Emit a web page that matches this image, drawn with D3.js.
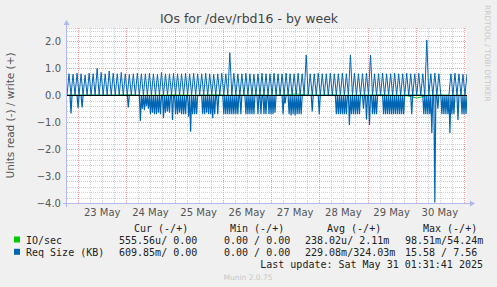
<!DOCTYPE html>
<html>
<head>
<meta charset="utf-8">
<script src="https://cdn.jsdelivr.net/npm/d3@7"></script>
<style>
  body { margin: 0; background: #f0f0f0; }
  svg text { font-family: "DejaVu Sans", sans-serif; }
  .mono { font-family: "DejaVu Sans Mono", monospace !important; font-size: 10px; fill: #222; }
</style>
</head>
<body>
<div id="chart"></div>
<script>
// Req Size (KB), write side, one sample per hour from 22 May 18:30
var reqWrite = [
  0,0.8, 0,0.78, 0,0.82, 0,0.8, 0,0.75, 0,0.82, 0,0.8, 0,1.0, 0,0.85, 0,0.8,
  0,0.9, 0,0.82, 0,0.8, 0,0.85, 0,0.8, 0,0.78, 0,0.8, 0,0.82, 0,0.8, 0,0.8,
  0,0.82, 0,0.8, 0,0.78, 0,0.85, 0,0.8, 0,0.8, 0,0.82, 0,0.8, 0,0.8, 0,0.82,
  0,0.8, 0,0.82, 0,0.8, 0,0.8, 0,0.82, 0,0.8, 0,0.78, 0,0.8, 0,0.82, 0,0.8,
  0,1.58, 0,0.82, 0,0.8, 0,0.8, 0,0.82, 0,0.8, 0,0.78, 0,0.8, 0,0.82, 0,0.8,
  0,0.8, 0,0.82, 0,0.8, 0,0.8, 0,0.82, 0,0.8, 0,0.8, 0,0.82, 0,0.8, 0,1.5,
  0,0.8, 0,0.8, 0,0.82, 0,0.8, 0,0.8, 0,0.82, 0,0.8, 0,0.8, 0,0.82, 0,0.8,
  0,1.5, 0,0.82, 0,0.8, 0,0.8, 0,0.82, 0,1.5, 0,0.8, 0,0.8, 0,0.82, 0,0.8,
  0,0.8, 0,0.82, 0,0.8, 0,0.8, 0,0.82, 0,0.8, 0,0.8, 0,0.82, 0,0.8, 0,2.05,
  0,0.8, 0,0.82, 0,0.8, 0,0, 0,0, 0,0.8, 0,0.82, 0,0.8, 0,0.78, 0,0.8
];

// Req Size (KB), read side, one sample per 30 minutes from 22 May 18:30
var reqRead = [
  0,0,0,0,0.67,0,0,0,0,0,0,0.48,0,0,0,0.45,0,0,0,0,
  0,0,0,0,0,0,0,0,0,0,0,0,0,0,0,0,0,0,0,0,
  0,0,0,0,0,0,0,0,0,0,0,0,0,0,0,0,0,0,0,0,
  0,0.45,0,0,0,0,0,0,0,0,0,0,0,0.95,0,0.5,0,0.55,0,0.4,
  0,0.5,0,0.7,0,0.65,0,0.7,0,0.7,0,0.65,0,0.7,0,0,0.85,0,0.65,0,
  0.6,0,0.65,0,0,0.92,0,0,0.7,0,0.7,0,0.65,0,0.7,0,0.7,0,0.7,0,
  0,0.8,0,1.35,0,0.7,0,0.7,0,0.7,0,0,0,0,0,0.7,0,0.7,0,0.65,
  0,0.7,0,0.7,0,0.85,0,0.7,0,0,0.7,0,0,0,0,0,0.7,0,0.7,0,
  0.7,0,0.7,0,0.7,0,0.7,0,0.7,0,0.7,0,0,0.7,0,0,0,0,0.7,0,
  0.7,0,0.7,0,0.7,0,0.7,0,0,0,0.7,0,0,0.7,0,0,0.7,0,0.7,0,
  0,0.7,0,0.7,0,0.7,0,0.65,0,0,0,0,0,0,0,0.7,0,0.3,0,0,
  0,0.7,0,0.75,0,0.7,0,0.75,0,0.7,0,0.7,0,0.7,0,0,0,0,0,0,
  0,0,0,0,0.6,0,0,0,0,0,0,0.7,0,0,0,0,0,0,0,0,
  0,0,0,0,0,0,0,0,0.7,0,0.7,0,0.7,0,0.7,0,0.7,0,0.7,0,
  0,1.1,0,0.7,0,0.7,0,0.7,0,0.7,0,0.7,0,0,0,0.5,0,0,0.9,0,
  0,1.1,0,0,0.7,0,0.7,0,0.7,0,0,0,0,0,0,0.7,0,0.7,0,0.7,
  0,0.7,0,0.7,0,0.7,0,0.7,0,0.7,0,0.7,0,0.7,0,0.7,0,0,0,0,
  0,0,0,0.7,0,0,0,0,0,0,0,0,0,0,0,0.7,0,0.7,0,0.7,
  0,0.7,0,1.4,0,0,3.98,0,0,0.5,0,0,0,0.7,0,0.7,0,0.7,0,0.7,
  0,1.4,0,0.7,0,0.7,0,0,0,0.92,0,0,0,0.7,0,0.7,0,0.7,0
];

// IO/sec, one sample per 6 hours
var ioWrite = [0,0,0.01,0,0,0.02,0,0,0,0.01,0,0,0.02,0,0,0,0.01,0,0,0.05,0,0,0.01,0,0,0,0.02,0,0,0.01,0,0,0,0];
var ioRead  = [0,0,0,0,0,0,0.01,0,0,0,0,0.01,0,0,0,0,0,0,0,0,0,0,0,0.01,0,0,0,0,0,0.1,0,0,0.01,0];

var yTicks = [2, 1, 0, -1, -2, -3, -4];
var legendHead = ["Cur (-/+)", "Min (-/+)", "Avg (-/+)", "Max (-/+)"];
var legendRows = [
  { name: "IO/sec", color: "#00cc00", vals: ["555.56u/ 0.00", "0.00 / 0.00", "238.02u/ 2.11m", "98.51m/54.24m"] },
  { name: "Req Size (KB)", color: "#0066b3", vals: ["609.85m/ 0.00", "0.00 / 0.00", "229.08m/324.03m", "15.58 / 7.56"] }
];

var W = 497, H = 287;
var pL = 67, pR = 467, pT = 28, pB = 203;
var start = new Date(2025, 4, 22, 18, 30), end = new Date(2025, 4, 31, 1, 30);

var svg = d3.select("#chart").append("svg").attr("width", W).attr("height", H);

var x = d3.scaleTime().domain([start, end]).range([pL, pR]);
var y = d3.scaleLinear().domain([-4, 2.5]).range([pB, pT]);

svg.append("rect").attr("x", pL).attr("y", pT).attr("width", pR - pL).attr("height", pB - pT).attr("fill", "#fff");

svg.append("defs").append("clipPath").attr("id", "clip")
  .append("rect").attr("x", pL).attr("y", pT).attr("width", pR - pL).attr("height", pB - pT + 1);

// grid
var minorY = d3.range(-40, 26, 2).map(function (d) { return d / 10; }).filter(function (d) { return d % 1 !== 0; });
var grid = svg.append("g").attr("shape-rendering", "crispEdges");
grid.selectAll(".hmin").data(minorY).enter().append("line")
  .attr("x1", pL).attr("x2", pR)
  .attr("y1", function (d) { return Math.round(y(d)) + 0.5; }).attr("y2", function (d) { return Math.round(y(d)) + 0.5; })
  .attr("stroke", "#d0d0d0").attr("stroke-dasharray", "1,1");
var minorX = d3.timeHour.every(6).range(start, end).filter(function (d) { return d.getHours() !== 0; });
grid.selectAll(".vmin").data(minorX).enter().append("line")
  .attr("y1", pT).attr("y2", pB)
  .attr("x1", function (d) { return Math.round(x(d)) + 0.5; }).attr("x2", function (d) { return Math.round(x(d)) + 0.5; })
  .attr("stroke", "#d0d0d0").attr("stroke-dasharray", "1,1");
grid.selectAll(".hmaj").data(yTicks.concat([2.5])).enter().append("line")
  .attr("x1", pL).attr("x2", pR)
  .attr("y1", function (d) { return Math.round(y(d)) + 0.5; }).attr("y2", function (d) { return Math.round(y(d)) + 0.5; })
  .attr("stroke", function (d) { return d === 2.5 ? "#d0d0d0" : "#f0a0a0"; }).attr("stroke-dasharray", "1,1");
var days = d3.timeDay.range(start, end);
grid.selectAll(".vmaj").data(days).enter().append("line")
  .attr("y1", pT).attr("y2", pB)
  .attr("x1", function (d) { return Math.round(x(d)) + 0.5; }).attr("x2", function (d) { return Math.round(x(d)) + 0.5; })
  .attr("stroke", "#f0a0a0").attr("stroke-dasharray", "1,1");

// series
var plot = svg.append("g").attr("clip-path", "url(#clip)");
function series(vals, stepMin, sign) {
  return vals.map(function (v, i) { return [d3.timeMinute.offset(start, i * stepMin), sign * v]; });
}
var line = d3.line().x(function (d) { return x(d[0]); }).y(function (d) { return y(d[1]); });

plot.append("path").attr("d", line(series(ioWrite, 360, 1))).attr("fill", "none").attr("stroke", "#00cc00").attr("stroke-width", 1);
plot.append("path").attr("d", line(series(ioRead, 360, -1))).attr("fill", "none").attr("stroke", "#00cc00").attr("stroke-width", 1);
plot.append("path").attr("d", line(series(reqWrite, 60, 1))).attr("fill", "none").attr("stroke", "#0066b3").attr("stroke-width", 1);
plot.append("path").attr("d", line(series(reqRead, 30, -1))).attr("fill", "none").attr("stroke", "#0066b3").attr("stroke-width", 1.2);

// zero line
svg.append("line").attr("x1", pL).attr("x2", pR)
  .attr("y1", Math.round(y(0)) + 0.5).attr("y2", Math.round(y(0)) + 0.5)
  .attr("stroke", "#000").attr("shape-rendering", "crispEdges");

// axes
var axisCol = "#b4b8f0";
svg.append("line").attr("x1", pL - 4).attr("x2", pR + 3).attr("y1", pB + 0.5).attr("y2", pB + 0.5)
  .attr("stroke", axisCol).attr("shape-rendering", "crispEdges");
svg.append("path").attr("d", "M" + (pR + 3) + "," + (pB - 2.5) + "L" + (pR + 8) + "," + (pB + 0.5) + "L" + (pR + 3) + "," + (pB + 3.5) + "Z").attr("fill", axisCol);
svg.append("line").attr("x1", pL - 0.5).attr("x2", pL - 0.5).attr("y1", pB + 4).attr("y2", pT - 3)
  .attr("stroke", axisCol).attr("shape-rendering", "crispEdges");
svg.append("path").attr("d", "M" + (pL - 3.5) + "," + (pT - 3) + "L" + (pL - 0.5) + "," + (pT - 8) + "L" + (pL + 2.5) + "," + (pT - 3) + "Z").attr("fill", axisCol);

svg.selectAll(".ylab").data(yTicks).enter().append("text")
  .attr("x", pL - 6).attr("y", function (d) { return y(d) + 3.5; })
  .attr("text-anchor", "end").attr("font-size", "10px").attr("fill", "#555")
  .text(function (d) { return d3.format(".1f")(d); });

var noons = days.map(function (d) { return d3.timeHour.offset(d, 12); })
  .filter(function (d) { return d < end; });
svg.selectAll(".xlab").data(noons).enter().append("text")
  .attr("x", function (d) { return x(d); }).attr("y", pB + 13)
  .attr("text-anchor", "middle").attr("font-size", "10px").attr("fill", "#555")
  .text(d3.timeFormat("%d %b"));

svg.append("text").attr("transform", "translate(14," + ((pT + pB) / 2) + ") rotate(-90)")
  .attr("text-anchor", "middle").attr("font-size", "10.5px").attr("fill", "#555")
  .text("Units read (-) / write (+)");

svg.append("text").attr("x", 249).attr("y", 23).attr("text-anchor", "middle")
  .attr("font-size", "12.5px").attr("fill", "#444").text("IOs for /dev/rbd16 - by week");

svg.append("text").attr("transform", "translate(485,5) rotate(90)")
  .attr("font-size", "7.5px").attr("fill", "#c8c8c8").text("RRDTOOL / TOBI OETIKER");

// legend
var colX = [134, 230, 327, 423];
var valX = [119, 224, 305, 405];
svg.selectAll(".lhead").data(legendHead).enter().append("text").attr("class", "mono")
  .attr("x", function (d, i) { return colX[i]; }).attr("y", 231.5).text(function (d) { return d; });
legendRows.forEach(function (r, ri) {
  var yy = 243.5 + ri * 12.3;
  svg.append("rect").attr("x", 14).attr("y", yy - 7).attr("width", 6).attr("height", 6).attr("fill", r.color);
  svg.append("text").attr("class", "mono").attr("x", 26).attr("y", yy).text(r.name);
  r.vals.forEach(function (v, i) {
    svg.append("text").attr("class", "mono").attr("x", valX[i]).attr("y", yy).text(v);
  });
});
svg.append("text").attr("class", "mono").attr("x", 483).attr("y", 268).attr("text-anchor", "end")
  .text("Last update: Sat May 31 01:31:41 2025");
svg.append("text").attr("x", 248).attr("y", 279.5).attr("text-anchor", "middle")
  .attr("font-size", "7.5px").attr("fill", "#c8c8c8").text("Munin 2.0.75");
</script>
</body>
</html>
